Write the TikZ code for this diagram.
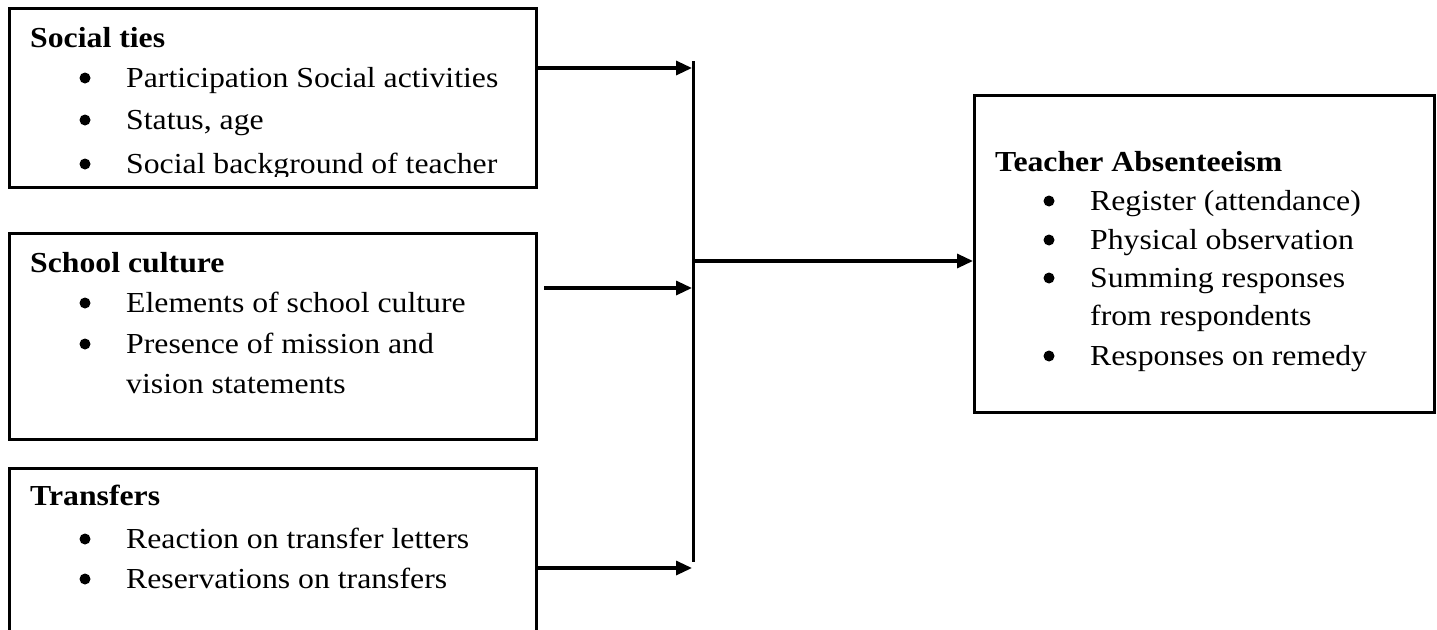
\documentclass[tikz,border=0pt]{standalone}
\usepackage{fontspec}
\setmainfont{Liberation Serif}[FakeStretch=1.095]
\usetikzlibrary{arrows.meta}
\tikzset{
  box/.style={draw=black, line width=3pt, inner sep=0pt, anchor=north west},
  ttl/.style={anchor=base west, inner sep=0pt, font=\fontsize{29}{34}\selectfont\bfseries},
  itm/.style={anchor=base west, inner sep=0pt, font=\fontsize{29}{34}\selectfont},
  bul/.style={fill=black},
  conn/.style={line width=3pt},
  arr/.style={line width=3.2pt, -{Triangle[length=16pt,width=14pt]}}
}
\begin{document}
\begin{tikzpicture}[x=1pt,y=-1pt]
\useasboundingbox (0,0) rectangle (1437,629);
\fill[white] (0,0) rectangle (1437,629);
\clip (0,0) rectangle (1437,629);

% boxes
\node[box, minimum width=527pt, minimum height=179pt] (b1) at (8,7) {};
\node[box, minimum width=527pt, minimum height=206pt] (b2) at (8,232) {};
\node[box, minimum width=527pt, minimum height=200pt] (b3) at (8,467) {};
\node[box, minimum width=460pt, minimum height=317pt] (b4) at (973,94) {};

% box 1 text (clipped at the bottom like the reference)
\begin{scope}
\clip (8,7) rectangle (535,176);
\node[ttl] (t1) at (30,47) {Social ties};
\node[itm] (t1a) at (126,87) {Participation Social activities};
\node[itm] (t1b) at (126,129) {Status, age};
\node[itm] (t1c) at (126,173) {Social background of teacher};
\fill[bul] (85,78) circle (5.5pt);
\fill[bul] (85,120) circle (5.5pt);
\fill[bul] (85,164) circle (5.5pt);
\end{scope}

% box 2 text
\node[ttl] (t2) at (30,272) {School culture};
\node[itm] (t2a) at (126,312) {Elements of school culture};
\node[itm] (t2b) at (126,353) {Presence of mission and};
\node[itm] (t2c) at (126,393) {vision statements};
\fill[bul] (85,303) circle (5.5pt);
\fill[bul] (85,344) circle (5.5pt);

% box 3 text
\node[ttl] (t3) at (30,505) {Transfers};
\node[itm] (t3a) at (126,548) {Reaction on transfer letters};
\node[itm] (t3b) at (126,588) {Reservations on transfers};
\fill[bul] (85,539) circle (5.5pt);
\fill[bul] (85,579) circle (5.5pt);

% box 4 text
\node[ttl] (t4) at (995,171) {Teacher Absenteeism};
\node[itm] (t4a) at (1090,210) {Register (attendance)};
\node[itm] (t4b) at (1090,249) {Physical observation};
\node[itm] (t4c) at (1090,287) {Summing responses};
\node[itm] (t4d) at (1090,325) {from respondents};
\node[itm] (t4e) at (1090,365) {Responses on remedy};
\fill[bul] (1049,201) circle (5.5pt);
\fill[bul] (1049,240) circle (5.5pt);
\fill[bul] (1049,278) circle (5.5pt);
\fill[bul] (1049,356) circle (5.5pt);

% junction points
\coordinate (j1) at (692,68);
\coordinate (j2) at (692,288);
\coordinate (j3) at (692,568);
\coordinate (jm) at (693,261);
\coordinate (vt) at (693,61);
\coordinate (vb) at (693,562);

% connectors
\draw[arr] (b1.east |- j1) -- (j1);
\draw[arr, shorten <=6pt] (b2.east |- j2) -- (j2);
\draw[arr] (b3.east |- j3) -- (j3);
\draw[conn] (vt) -- (vb);
\draw[arr] (jm) -- (b4.west |- jm);
\end{tikzpicture}
\end{document}
